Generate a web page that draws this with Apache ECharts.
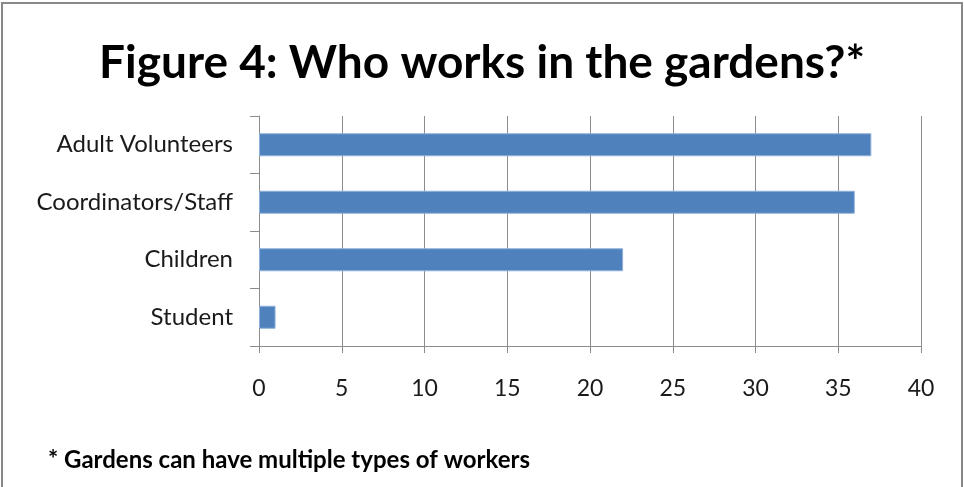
<!DOCTYPE html>
<html>
<head>
<meta charset="utf-8">
<script src="https://cdn.jsdelivr.net/npm/echarts@6/dist/echarts.min.js"></script>
<style>html,body{margin:0;padding:0;background:#fff}#c{width:964px;height:487px}</style>
</head>
<body>
<div id="c"></div>
<script>
const categories = ["Adult Volunteers", "Coordinators/Staff", "Children", "Student"];
const values = [37, 36, 22, 1];
const titleText = "Figure 4: Who works in the gardens?*";
const footnote = "* Gardens can have multiple types of workers";

const chart = echarts.init(document.getElementById('c'), null, {renderer: 'canvas'});
chart.setOption({
  animation: false,
  backgroundColor: '#fff',
  title: {
    text: titleText,
    left: 'center',
    top: 35,
    textStyle: {fontFamily: 'Lato', fontWeight: 'bold', fontSize: 46, color: '#000'}
  },
  grid: {left: 259, right: 43, top: 116, bottom: 141},
  xAxis: {
    type: 'value', min: 0, max: 40, interval: 5,
    axisLine: {show: true, lineStyle: {color: '#8c8c8c', width: 1}},
    axisTick: {show: true, length: 7, lineStyle: {color: '#8c8c8c'}},
    splitLine: {show: true, lineStyle: {color: '#8c8c8c', width: 1}},
    axisLabel: {margin: 31, fontFamily: 'Lato', fontSize: 23, color: '#1a1a1a'}
  },
  yAxis: {
    type: 'category', data: categories, inverse: true,
    axisLine: {show: true, lineStyle: {color: '#8c8c8c', width: 1}},
    axisTick: {show: true, length: 9, alignWithLabel: false, lineStyle: {color: '#8c8c8c'}},
    axisLabel: {margin: 26, fontFamily: 'Lato', fontSize: 24, color: '#1a1a1a'}
  },
  series: [{
    type: 'bar', data: values, barWidth: '40%',
    itemStyle: {color: '#4F81BD', borderColor: '#8FB0DA', borderWidth: 1}
  }],
  graphic: [
    {type: 'rect', shape: {x: 2, y: 3, width: 960, height: 490}, style: {fill: 'none', stroke: '#888', lineWidth: 2}, z: 100},
    {type: 'text', left: 48, top: 448, style: {text: footnote, fontFamily: 'Lato', fontWeight: 'bold', fontSize: 24, fill: '#000'}}
  ]
});
</script>
</body>
</html>
